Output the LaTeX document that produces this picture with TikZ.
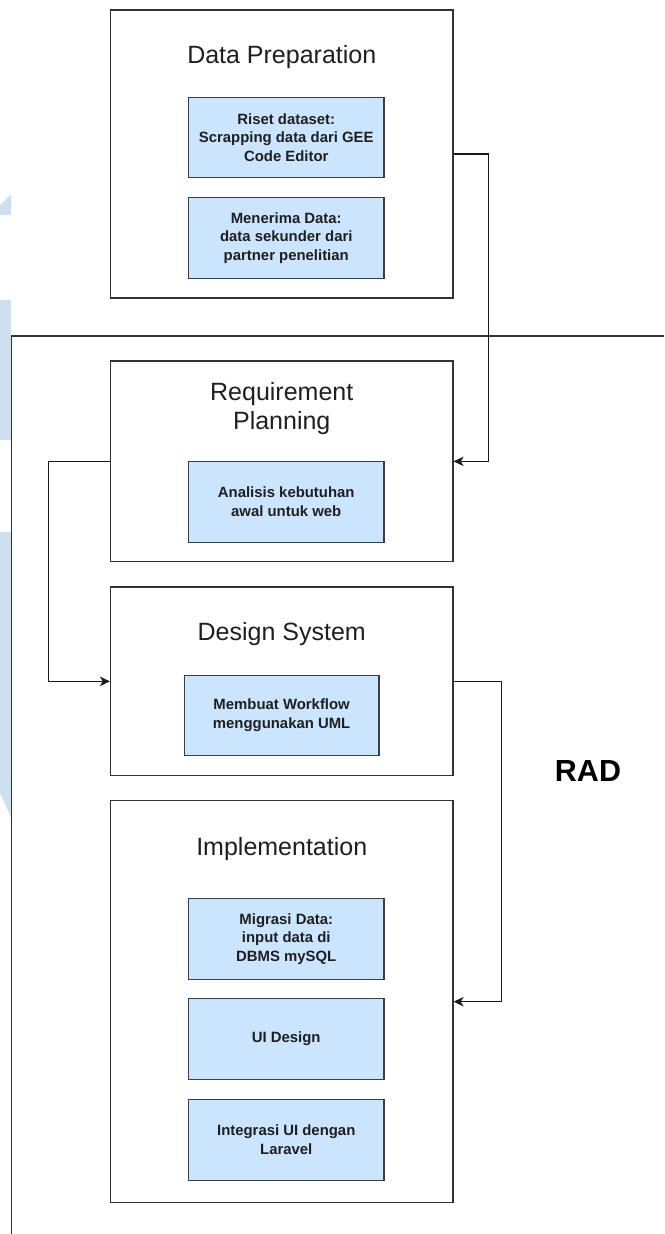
\documentclass[tikz,border=0pt]{standalone}
\usepackage{fontspec}
\setmainfont{Liberation Sans}
\usetikzlibrary{arrows.meta}

\definecolor{stageline}{HTML}{333333}
\definecolor{taskfill}{HTML}{CCE5FF}
\definecolor{taskline}{HTML}{3A3D42}
\definecolor{markfill}{RGB}{206,224,240}

\tikzset{
  stagebox/.style={draw=stageline, line width=1.3pt, fill=white, inner sep=0pt},
  taskbox/.style={draw=taskline, line width=1.1pt, fill=taskfill, inner sep=0pt,
    minimum width=195.5pt, minimum height=80.4pt, align=center,
    font=\fontsize{14.9}{18.4}\selectfont\bfseries, text=black!88},
  stagetitle/.style={anchor=base, font=\fontsize{25}{29}\selectfont, text=black!88, inner sep=0pt},
  flow/.style={draw=black!90, line width=1.1pt, -{Stealth[length=10pt,width=9.5pt,inset=3pt]}},
  frameline/.style={draw=stageline, line width=1.2pt},
}

\begin{document}
\begin{tikzpicture}[x=1pt, y=-1pt]
\useasboundingbox (0,0) rectangle (664,1234);
\fill[white] (0,0) rectangle (664,1234);

% pale marks along the left margin
\fill[markfill] (0,205) -- (11,194) -- (11,215) -- (0,215) -- cycle;
\fill[markfill] (0,300) rectangle (11,440);
\fill[markfill] (0,532) -- (11,532) -- (11,817) -- (0,793) -- cycle;

% RAD frame: top edge and left edge
\draw[frameline] (11.7,1234) -- (11.7,336) -- (664,336);
\node[font=\fontsize{30.5}{34}\selectfont\bfseries, inner sep=0pt] (rad) at (588,771) {RAD};

% stage boxes
\node[stagebox, minimum width=342.5pt, minimum height=288pt]   (dp) at (281.75,154) {};
\node[stagebox, minimum width=342.5pt, minimum height=200.7pt] (rp) at (281.75,461.35) {};
\node[stagebox, minimum width=342.5pt, minimum height=188.7pt] (ds) at (281.75,681.35) {};
\node[stagebox, minimum width=342.5pt, minimum height=402pt]   (im) at (281.75,1001.7) {};

% stage titles
\node[stagetitle] (dpt) at (281.75,63.3) {Data Preparation};
\node[stagetitle] (rpt1) at (281.75,400) {Requirement};
\node[stagetitle] (rpt2) at (281.75,429.5) {Planning};
\node[stagetitle] (dst) at (281.75,640) {Design System};
\node[stagetitle] (imt) at (281.75,855) {Implementation};

% tasks
\node[taskbox] (dp1) at (286.25,137.5) {Riset dataset:\\Scrapping data dari GEE\\Code Editor};
\node[taskbox] (dp2) at (286.25,237.85) {Menerima Data:\\data sekunder dari\\partner penelitian};
\node[taskbox] (rp1) at (286.25,501.85) {Analisis kebutuhan\\awal untuk web};
\node[taskbox, minimum width=194.7pt] (ds1) at (281.65,715.35) {Membuat Workflow\\menggunakan UML};
\node[taskbox] (im1) at (286.25,938.85) {Migrasi Data:\\input data di\\DBMS mySQL};
\node[taskbox] (im2) at (286.25,1039) {UI Design};
\node[taskbox] (im3) at (286.25,1139.85) {Integrasi UI dengan\\Laravel};

% flow between stages
\draw[flow] (dp.east) -- ++(35,0) |- (rp.east);
\draw[flow] (rp.west) -- ++(-61,0) |- (ds.west);
\draw[flow] (ds.east) -- ++(48,0) |- (im.east);
\end{tikzpicture}
\end{document}
